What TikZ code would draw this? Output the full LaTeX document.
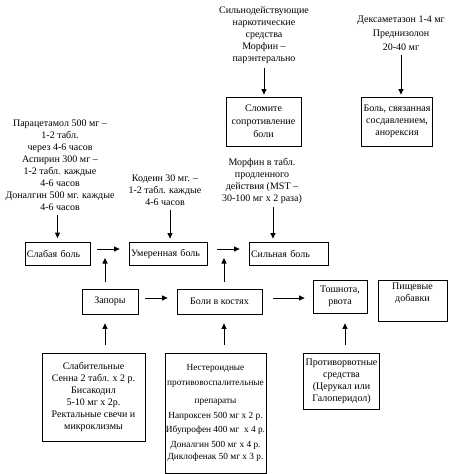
\documentclass[tikz,border=0pt]{standalone}
\usepackage{fontspec}
\setmainfont{Liberation Serif}
\usetikzlibrary{arrows.meta}

\begin{document}
\begin{tikzpicture}[x=1pt,y=-1pt,font=\fontsize{10}{12}\selectfont,>={Triangle[length=5.5pt,width=5pt]},
  box/.style={draw,line width=0.8pt,align=center,inner sep=2pt},
  painbox/.style={box,text width=#1,align=left,minimum height=23pt},
  note/.style={align=center,inner sep=1pt},
  arr/.style={->,line width=0.8pt}]
  \useasboundingbox (0,0) rectangle (458,474);
  % top row: strong analgesics and steroids
  \node[note] (narc) at (264,35) {Сильнодействующие\\наркотические\\средства\\Морфин --\\парэнтерально};
  \node[box,minimum width=75pt,minimum height=49pt] (resist) at (263.5,121.5)
        {Сломите\\[1pt]сопротивление\\[1pt]боли};
  \node[note] (dexa) at (401,33) {Дексаметазон 1-4 мг\\[2pt]Преднизолон\\[2pt]20-40 мг};
  \node[box,minimum width=70pt,minimum height=49pt] (press) at (397,121.5)
        {Боль, связанная\\сосдавлением,\\анорексия};
  \draw[arr,shorten <=3pt,shorten >=2pt] (narc.south) -- (narc.south |- resist.north);
  \draw[arr,shorten <=3pt,shorten >=2pt] (dexa.south) -- (dexa.south |- press.north);
  % analgesic ladder
  \node[note] (para) at (60,165.5) {Парацетамол 500 мг --\\1-2 табл.\\через 4-6 часов\\Аспирин 300 мг --\\1-2 табл. каждые\\4-6 часов\\Доналгин 500 мг. каждые\\4-6 часов};
  \node[note] (cod) at (165,190) {Кодеин 30 мг. --\\1-2 табл. каждые\\4-6 часов};
  \node[note] (mst) at (262,180.5) {Морфин в табл.\\продленного\\действия (MST --\\30-100 мг х 2 раза)};
  \node[painbox=61pt] (weak) at (57.5,254) {Слабая боль};
  \node[painbox=74pt] (mod) at (168,253.5) {Умеренная боль};
  \node[painbox=75pt] (sev) at (288.5,253.5) {Сильная боль};
  \draw[arr,shorten <=3pt,shorten >=4pt] (weak.north |- para.south) -- (weak.north);
  \draw[arr,shorten <=3pt,shorten >=3pt] ([xshift=2pt]mod.north |- cod.south) -- ([xshift=2pt]mod.north);
  \draw[arr,shorten <=3pt,shorten >=3pt] ([xshift=11pt]mst.south) -- ([xshift=11pt]mst.south |- sev.north);
  \draw[arr,shorten <=7pt,shorten >=9pt] ([yshift=5pt]weak.east) -- ([yshift=5pt]weak.east -| mod.west);
  \draw[arr,shorten <=10pt,shorten >=9pt] ([yshift=4.5pt]mod.east) -- ([yshift=4.5pt]mod.east -| sev.west);
  \coordinate (wm) at (105,249);
  \coordinate (ms) at (224,249);
  % complications
  \node[box,minimum width=56pt,minimum height=25pt] (constip) at (110,301.5) {Запоры};
  \node[box,minimum width=85pt,minimum height=25pt] (bone) at (219.5,301.5) {Боли в костях};
  \node[box,minimum width=54pt,minimum height=33pt] (nausea) at (340,296.5) {Тошнота,\\рвота};
  \node[box,minimum width=69pt,minimum height=41pt] (food) at (412.5,300.5) {Пищевые\\добавки\\[4pt]};
  \draw[arr,shorten <=7pt,shorten >=9pt] (constip.north -| wm) -- (wm);
  \draw[arr,shorten <=7pt,shorten >=9pt] (bone.north -| ms) -- (ms);
  \draw[arr,shorten <=7pt,shorten >=9pt] ([yshift=3.5pt]constip.east) -- ([yshift=3.5pt]constip.east -| bone.west);
  \draw[arr,shorten <=11pt,shorten >=8pt] ([yshift=3.5pt]bone.east) -- ([yshift=3.5pt]bone.east -| nausea.west);
  % treatment of complications
  \node[box,minimum width=103pt,minimum height=88pt] (lax) at (93.5,397)
        {Слабительные\\Сенна 2 табл. х 2 р.\\Бисакодил\\5-10 мг х 2р.\\Ректальные свечи и\\микроклизмы};
  \node[box,minimum width=95pt,minimum height=120pt,inner sep=1pt,font=\fontsize{9.3}{12}\selectfont] (nsaid) at (215.5,413)
        {Нестероидные\\[3pt]противовоспалительные\\[6pt]препараты\\[3pt]Напроксен 500 мг х 2 р.\\[2pt]Ибупрофен 400 мг~ х 4 р.\\[3pt]Доналгин 500 мг х 4 р.\\Диклофенак 50 мг х 3 р.};
  \node[box,minimum width=71pt,minimum height=56pt] (antiem) at (341.5,381)
        {Противорвотные\\средства\\(Церукал или\\Галоперидол)};
  \draw[arr,shorten <=8pt,shorten >=9pt] (lax.north -| wm) -- (constip.south -| wm);
  \draw[arr,shorten <=8pt,shorten >=9pt] (nsaid.north -| ms) -- (bone.south -| ms);
  \draw[arr,shorten <=8pt,shorten >=10pt] ([xshift=3.5pt]antiem.north) -- ([xshift=3.5pt]antiem.north |- nausea.south);
\end{tikzpicture}
\end{document}
